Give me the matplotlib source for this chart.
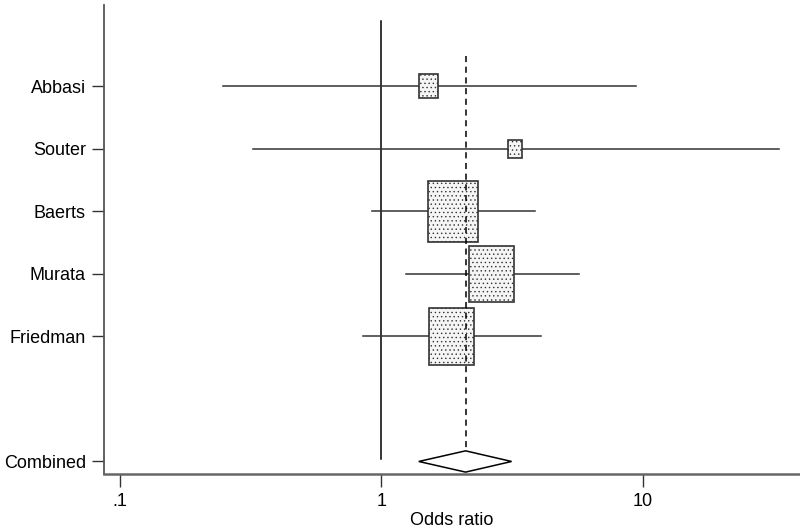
import numpy as np
import matplotlib.pyplot as plt
from matplotlib.patches import Rectangle, Polygon

plt.rcParams['font.family'] = ['Liberation Sans', 'DejaVu Sans']
plt.rcParams['hatch.color'] = '#c4c4c4'
plt.rcParams['hatch.linewidth'] = 0.5

# study data (odds ratios)
studies = ['Abbasi', 'Souter', 'Baerts', 'Murata', 'Friedman']
odds = [1.51, 3.26, 1.88, 2.65, 1.85]
ci_low = [0.248, 0.323, 0.924, 1.247, 0.853]
ci_high = [9.4, 33.2, 3.86, 5.69, 4.07]
weights = [19, 14, 49, 45, 45]   # relative box size

comb_or = 2.10
comb_low = 1.39
comb_high = 3.15

ticks = [0.1, 1, 10]
tick_labels = ['.1', '1', '10']

#%%
fig = plt.figure(figsize=(8, 5.3), dpi=100)
ax = fig.add_axes([0.13, 0.1057, 0.87, 0.885])
ax.set_xscale('log')
ax.set_xlim(0.0868, 40)
ax.set_ylim(7.2, -0.3)

ypos = np.arange(1, len(studies) + 1)
decade_px = 261.0
unit_px = 62.5

for y, o, lo, hi, w in zip(ypos, odds, ci_low, ci_high, weights):
    ax.plot([lo, hi], [y, y], color='#333333', lw=1.1, zorder=2)
    half = w / 2 / decade_px
    x0 = 10 ** (np.log10(o) - half)
    x1 = 10 ** (np.log10(o) + half)
    h = w * 1.25 / unit_px
    ax.add_patch(Rectangle((x0, y - h / 2), x1 - x0, h, facecolor='#f5f5f5',
                           edgecolor='#333333', lw=1.2, hatch='....', zorder=3))

# reference line at 1 and combined estimate
ax.plot([1, 1], [-0.05, 6.96], color='black', lw=1.1, zorder=1)
ax.plot([comb_or, comb_or], [0.52, 6.82], color='black', lw=1.1,
        ls=(0, (4, 3)), zorder=4)

cy = len(studies) + 2
diamond = Polygon([(comb_low, cy), (comb_or, cy - 0.17), (comb_high, cy),
                   (comb_or, cy + 0.17)], closed=True, facecolor='white',
                  edgecolor='black', lw=1.1, zorder=3)
ax.add_patch(diamond)

ax.set_yticks(list(ypos) + [cy])
ax.set_yticklabels(studies + ['Combined'], fontsize=13)
ax.set_xticks(ticks)
ax.set_xticklabels(tick_labels, fontsize=13)
ax.minorticks_off()
ax.tick_params(axis='both', length=9, width=1, color='#333333')
ax.tick_params(axis='x', pad=5)
ax.tick_params(axis='y', pad=4)
ax.set_xlabel('Odds ratio', fontsize=13, labelpad=1)

for s in ['top', 'right']:
    ax.spines[s].set_visible(False)
ax.spines['left'].set_color('#555555')
ax.spines['bottom'].set_color('#666666')
ax.spines['left'].set_linewidth(1.3)
ax.spines['bottom'].set_linewidth(1.8)

fig.savefig('out.png', dpi=100)
